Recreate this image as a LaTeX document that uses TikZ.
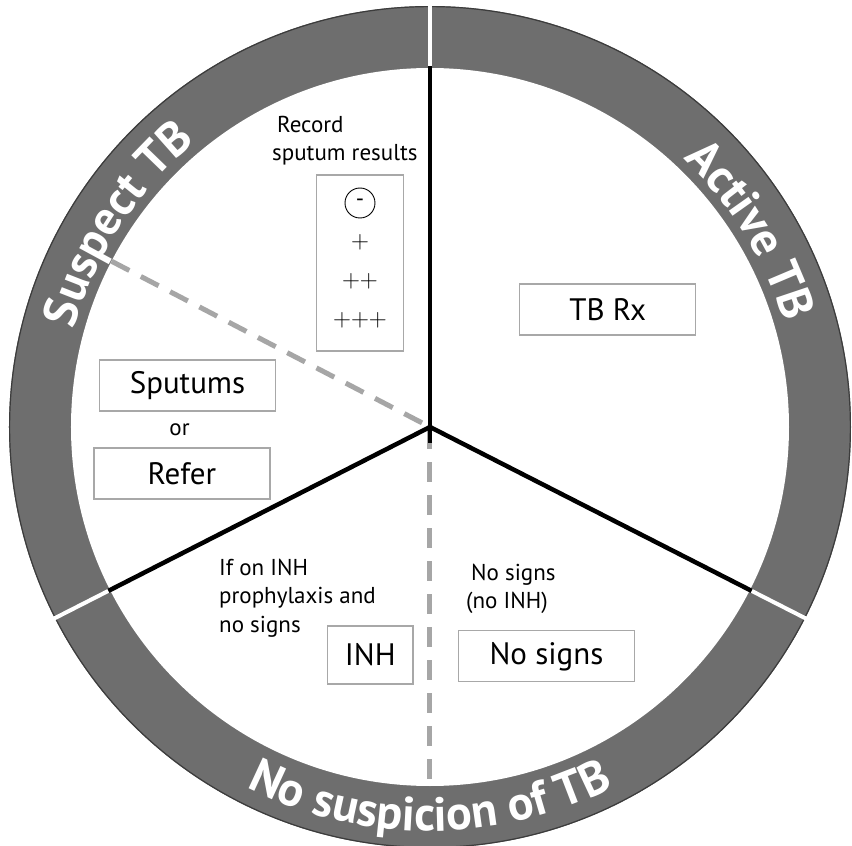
\documentclass[tikz,border=0pt]{standalone}
\usepackage{fontspec}
\setmainfont{PT Sans}
\usetikzlibrary{decorations.text}
\definecolor{ringgrey}{HTML}{6E6E6E}
\definecolor{ringedge}{HTML}{3C3C3C}
\definecolor{dashgrey}{HTML}{A6A6A6}
\definecolor{boxgrey}{HTML}{A8A8A8}
\newcommand\ringtext{\fontsize{48}{48}\selectfont\bfseries}
\newcommand\bigtext{\fontsize{31}{34}\selectfont}
\newcommand\smalltext{\fontsize{23}{28.5}\selectfont}
\newcommand\plustext{\fontsize{30}{30}\selectfont}
\newcommand\pl{\ensuremath{\mathord{+}}}
\tikzset{
  x=1pt, y=1pt,
  resbox/.style={draw=boxgrey, line width=1.3pt, rectangle, inner sep=0pt},
  widebox/.style={resbox, minimum width=176pt, minimum height=51pt, font=\bigtext},
  spoke/.style={line width=4.5pt, black},
  dashspoke/.style={line width=5pt, dashgrey, dash pattern=on 20pt off 13pt},
  gap/.style={line width=4pt, white},
  note/.style={font=\smalltext, align=left, inner sep=0pt},
  ringlabel/.style={decorate, decoration={text along path, text align=center, text color=white}}
}
\begin{document}
\begin{tikzpicture}
\useasboundingbox (-430,-419) rectangle (422,427);
% ring
\fill[ringgrey] (0,0) circle[radius=421];
\draw[ringedge, line width=1.2pt] (0,0) circle[radius=420.4];
\fill[white] (0,0) circle[radius=359];
% gaps in ring
\coordinate (c) at (0,0);
\coordinate (gt1) at (90:352);   \coordinate (gt2) at (90:428);
\coordinate (gl1) at (207:352);  \coordinate (gl2) at (207:428);
\coordinate (gr1) at (333:352);  \coordinate (gr2) at (333:428);
\draw[gap] (gt1) -- (gt2);
\draw[gap] (gl1) -- (gl2);
\draw[gap] (gr1) -- (gr2);
% dashed spokes
\coordinate (dul) at (152.5:359);
\coordinate (dbot) at (270:359);
\draw[dashspoke, dash phase=0pt] (dul) -- (c);
\draw[dashspoke, dash phase=-2pt] (c) -- (dbot);
% black spokes
\coordinate (st) at (90:361);
\coordinate (sl) at (207:361);
\coordinate (sr) at (333:361);
\coordinate (stub) at (0,-16);
\draw[spoke] (st) -- (c);
\draw[spoke] (sl) -- (c) -- (sr);
\draw[spoke] (c) -- (stub);
% ring labels
\path[ringlabel, decoration={text={|\ringtext|Suspect TB}}]
  (176:369) arc[start angle=176, end angle=118, radius=369];
\path[ringlabel, decoration={text={|\ringtext|Active TB}}]
  (62:369) arc[start angle=62, end angle=1, radius=369];
\path[ringlabel, decoration={text={|\ringtext|No suspicion of TB}}]
  (228:404) arc[start angle=228, end angle=312, radius=404];
% contents
\node[note, anchor=west] (rec) at (-158,286.5) {\hspace{5pt}Record\\sputum results};
\node[resbox, minimum width=87pt, minimum height=176pt] (res) at (-70,164) {};
\node[circle, draw, line width=0.9pt, minimum size=30pt, inner sep=0pt, font=\smalltext] (neg) at (-70,224) {-};
\node[font=\plustext] (p1) at (-70,185) {\pl};
\node[font=\plustext] (p2) at (-70,146) {\pl\pl};
\node[font=\plustext] (p3) at (-70,107) {\pl\pl\pl};
\node[widebox] (rx) at (177.75,117.5) {TB Rx};
\node[widebox] (sput) at (-242.5,41.5) {Sputums};
\node[font=\smalltext] (or) at (-250.5,-3) {or};
\node[widebox] (refer) at (-248,-46.5) {Refer};
\node[note, anchor=west] (ifon) at (-211,-171) {If on INH\\prophylaxis and\\no signs};
\node[resbox, minimum width=85.5pt, minimum height=58pt, font=\bigtext] (inh) at (-59.75,-228) {INH};
\node[note, anchor=west] (nos) at (36,-162) {\hspace{5pt}No signs\\(no INH)};
\node[widebox] (nosb) at (116.5,-229.3) {No signs};
\end{tikzpicture}
\end{document}
